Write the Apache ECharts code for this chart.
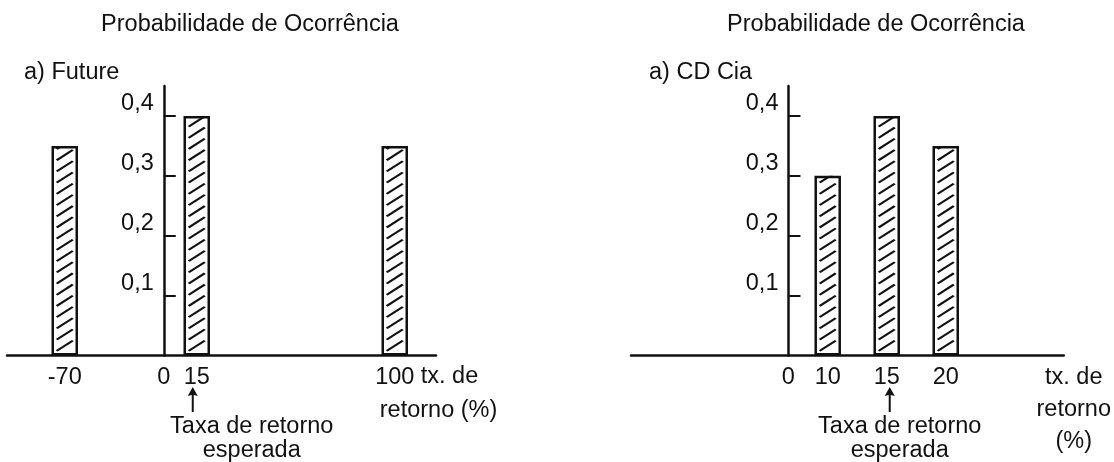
<!DOCTYPE html>
<html><head><meta charset="utf-8">
<script src="https://cdn.jsdelivr.net/npm/echarts@6/dist/echarts.min.js"></script>
<style>html,body{margin:0;padding:0;background:#fff}#c{width:1114px;height:462px}</style>
</head><body><div id="c"></div>
<script>
// ---- data ----
// Panel "a) Future": schematic return axis (tick labels, blanks are empty slots)
const futureAxisLabels = ['', '', '', '-70', '', '', '', '', '', '0', '', '15', '', '', '', '', '', '', '', '', '', '', '', '100', '', ''];
const futureReturns = ['-70', '15', '100'];
const futureProb = [0.35, 0.40, 0.35];
// Panel "a) CD Cia"
const cdAxisLabels = ['', '', '', '', '', '', '', '', '0', '', '10', '', '', '15', '', '', '20', '', '', '', '', '', ''];
const cdReturns = ['10', '15', '20'];
const cdProb = [0.30, 0.40, 0.35];
// y ticks
const yTickValues = [0.1, 0.2, 0.3, 0.4];
// texts
const panelTitle = 'Probabilidade de Ocorrência';
const futureName = 'a) Future';
const cdName = 'a) CD Cia';
const expectedReturn = '15';
const expectedText = 'Taxa de retorno\nesperada';
const leftAxisName = ['tx. de', 'retorno (%)'];
const rightAxisName = 'tx. de\nretorno\n(%)';

// ---- style ----
const INK = '#111';
const FONT = '"Liberation Sans", Arial, sans-serif';
const FS = 23.5;
const GRID_TOP = 86, GRID_H = 269.5;
const L_LEFT = 7, L_W = 429;
const R_LEFT = 631, R_W = 433;
const BAR_W = 26.5;
const hatchPath = 'path://M0,10.3 L16.1,0 L18,1.3 L1.9,11.6 Z';
const arrowPath = 'path://M5,0 L10,9 L6,8 L6,25 L4,25 L4,8 L0,9 Z';

const chart = echarts.init(document.getElementById('c'), null, {renderer: 'canvas'});

function textStyle(extra) {
  return Object.assign({color: INK, fontFamily: FONT, fontSize: FS, fontWeight: 'normal'}, extra || {});
}

function buildSeries(axisLabels, returns, probs, gi, cfg) {
  const barData = axisLabels.map(c => {
    const i = returns.indexOf(c);
    if (i < 0) return '-';
    const item = {value: probs[i]};
    if (cfg.nameOnLast && i === returns.length - 1) {
      item.label = {show: true, position: 'bottom', distance: 0, offset: [-15, 4.5],
        formatter: '{sp| }{t|' + leftAxisName[0] + '}\n{t|' + leftAxisName[1] + '}',
        align: 'left', verticalAlign: 'top',
        rich: {sp: {width: 41, fontSize: FS, fontFamily: FONT, lineHeight: 34},
               t: {color: INK, fontSize: FS, fontFamily: FONT, lineHeight: 34}}};
    }
    return item;
  });
  const hatchData = axisLabels.map(c => {
    const i = returns.indexOf(c);
    if (i < 0) return '-';
    const item = {value: probs[i]};
    if (c === expectedReturn) {
      item.label = {show: true, position: 'bottom', distance: 0, offset: [cfg.textDx, 59],
        formatter: expectedText, color: INK, fontFamily: FONT, fontSize: FS, lineHeight: 24,
        align: 'center', verticalAlign: 'top'};
    }
    return item;
  });
  return [
    {type: 'bar', xAxisIndex: gi, yAxisIndex: gi, barWidth: BAR_W, data: barData,
     itemStyle: {color: '#fff', borderColor: INK, borderWidth: 2.5}, silent: true,
     label: {show: false},
     markPoint: {silent: true, animation: false,
       data: [{coord: [expectedReturn, 0], symbol: arrowPath, symbolSize: [10, 25],
               symbolOffset: [cfg.arrowDx, 44], itemStyle: {color: INK}, label: {show: false}}]}},
    {type: 'pictorialBar', xAxisIndex: gi, yAxisIndex: gi, barWidth: BAR_W, data: hatchData,
     symbol: hatchPath, symbolSize: [18, 11.6], symbolRepeat: true, symbolMargin: 0,
     symbolClip: true, symbolOffset: [0, -4], itemStyle: {color: INK}, silent: true,
     label: {show: false}, z: 3}
  ];
}

function yAxis(gi, offset) {
  return {type: 'value', gridIndex: gi, min: 0, max: 0.45, offset: offset,
    axisLine: {show: true, lineStyle: {color: INK, width: 2.5}},
    axisTick: {show: true, inside: true, length: 12, lineStyle: {color: INK, width: 2}, customValues: yTickValues},
    axisLabel: Object.assign(textStyle({margin: 10, verticalAlign: 'bottom'}),
      {customValues: yTickValues, formatter: v => v.toFixed(1).replace('.', ',')}),
    splitLine: {show: false}};
}

function xAxis(gi, labels, boundaryGap, extra) {
  return Object.assign({type: 'category', gridIndex: gi, data: labels, boundaryGap: boundaryGap,
    axisTick: {show: false},
    axisLine: {onZero: true, lineStyle: {color: INK, width: 2.5}},
    axisLabel: textStyle({interval: 0, margin: 10}),
    splitLine: {show: false}}, extra || {});
}

const leftZeroIdx = futureAxisLabels.indexOf('0');
const rightZeroIdx = cdAxisLabels.indexOf('0');
const leftOffset = -((leftZeroIdx + 0.5) * L_W / futureAxisLabels.length);
const rightOffset = -(rightZeroIdx * R_W / (cdAxisLabels.length - 1));

chart.setOption({
  backgroundColor: '#fff',
  animation: false,
  title: [
    {text: panelTitle, left: 250, top: 13, textAlign: 'center', padding: 0, textStyle: textStyle()},
    {text: futureName, left: 24, top: 61, padding: 0, textStyle: textStyle()},
    {text: panelTitle, left: 876, top: 13, textAlign: 'center', padding: 0, textStyle: textStyle()},
    {text: cdName, left: 649, top: 61, padding: 0, textStyle: textStyle()}
  ],
  grid: [
    {left: L_LEFT, top: GRID_TOP, width: L_W, height: GRID_H},
    {left: R_LEFT, top: GRID_TOP, width: R_W, height: GRID_H}
  ],
  xAxis: [
    xAxis(0, futureAxisLabels, true),
    xAxis(1, cdAxisLabels, false, {name: rightAxisName, nameLocation: 'end', nameGap: 10,
      nameTextStyle: textStyle({align: 'center', verticalAlign: 'top', lineHeight: 32, padding: [6, 0, 0, 0]})})
  ],
  yAxis: [yAxis(0, leftOffset), yAxis(1, rightOffset)],
  series: [].concat(
    buildSeries(futureAxisLabels, futureReturns, futureProb, 0, {arrowDx: -4, textDx: 55, nameOnLast: true}),
    buildSeries(cdAxisLabels, cdReturns, cdProb, 1, {arrowDx: 3, textDx: 13, nameOnLast: false})
  )
});
</script></body></html>
